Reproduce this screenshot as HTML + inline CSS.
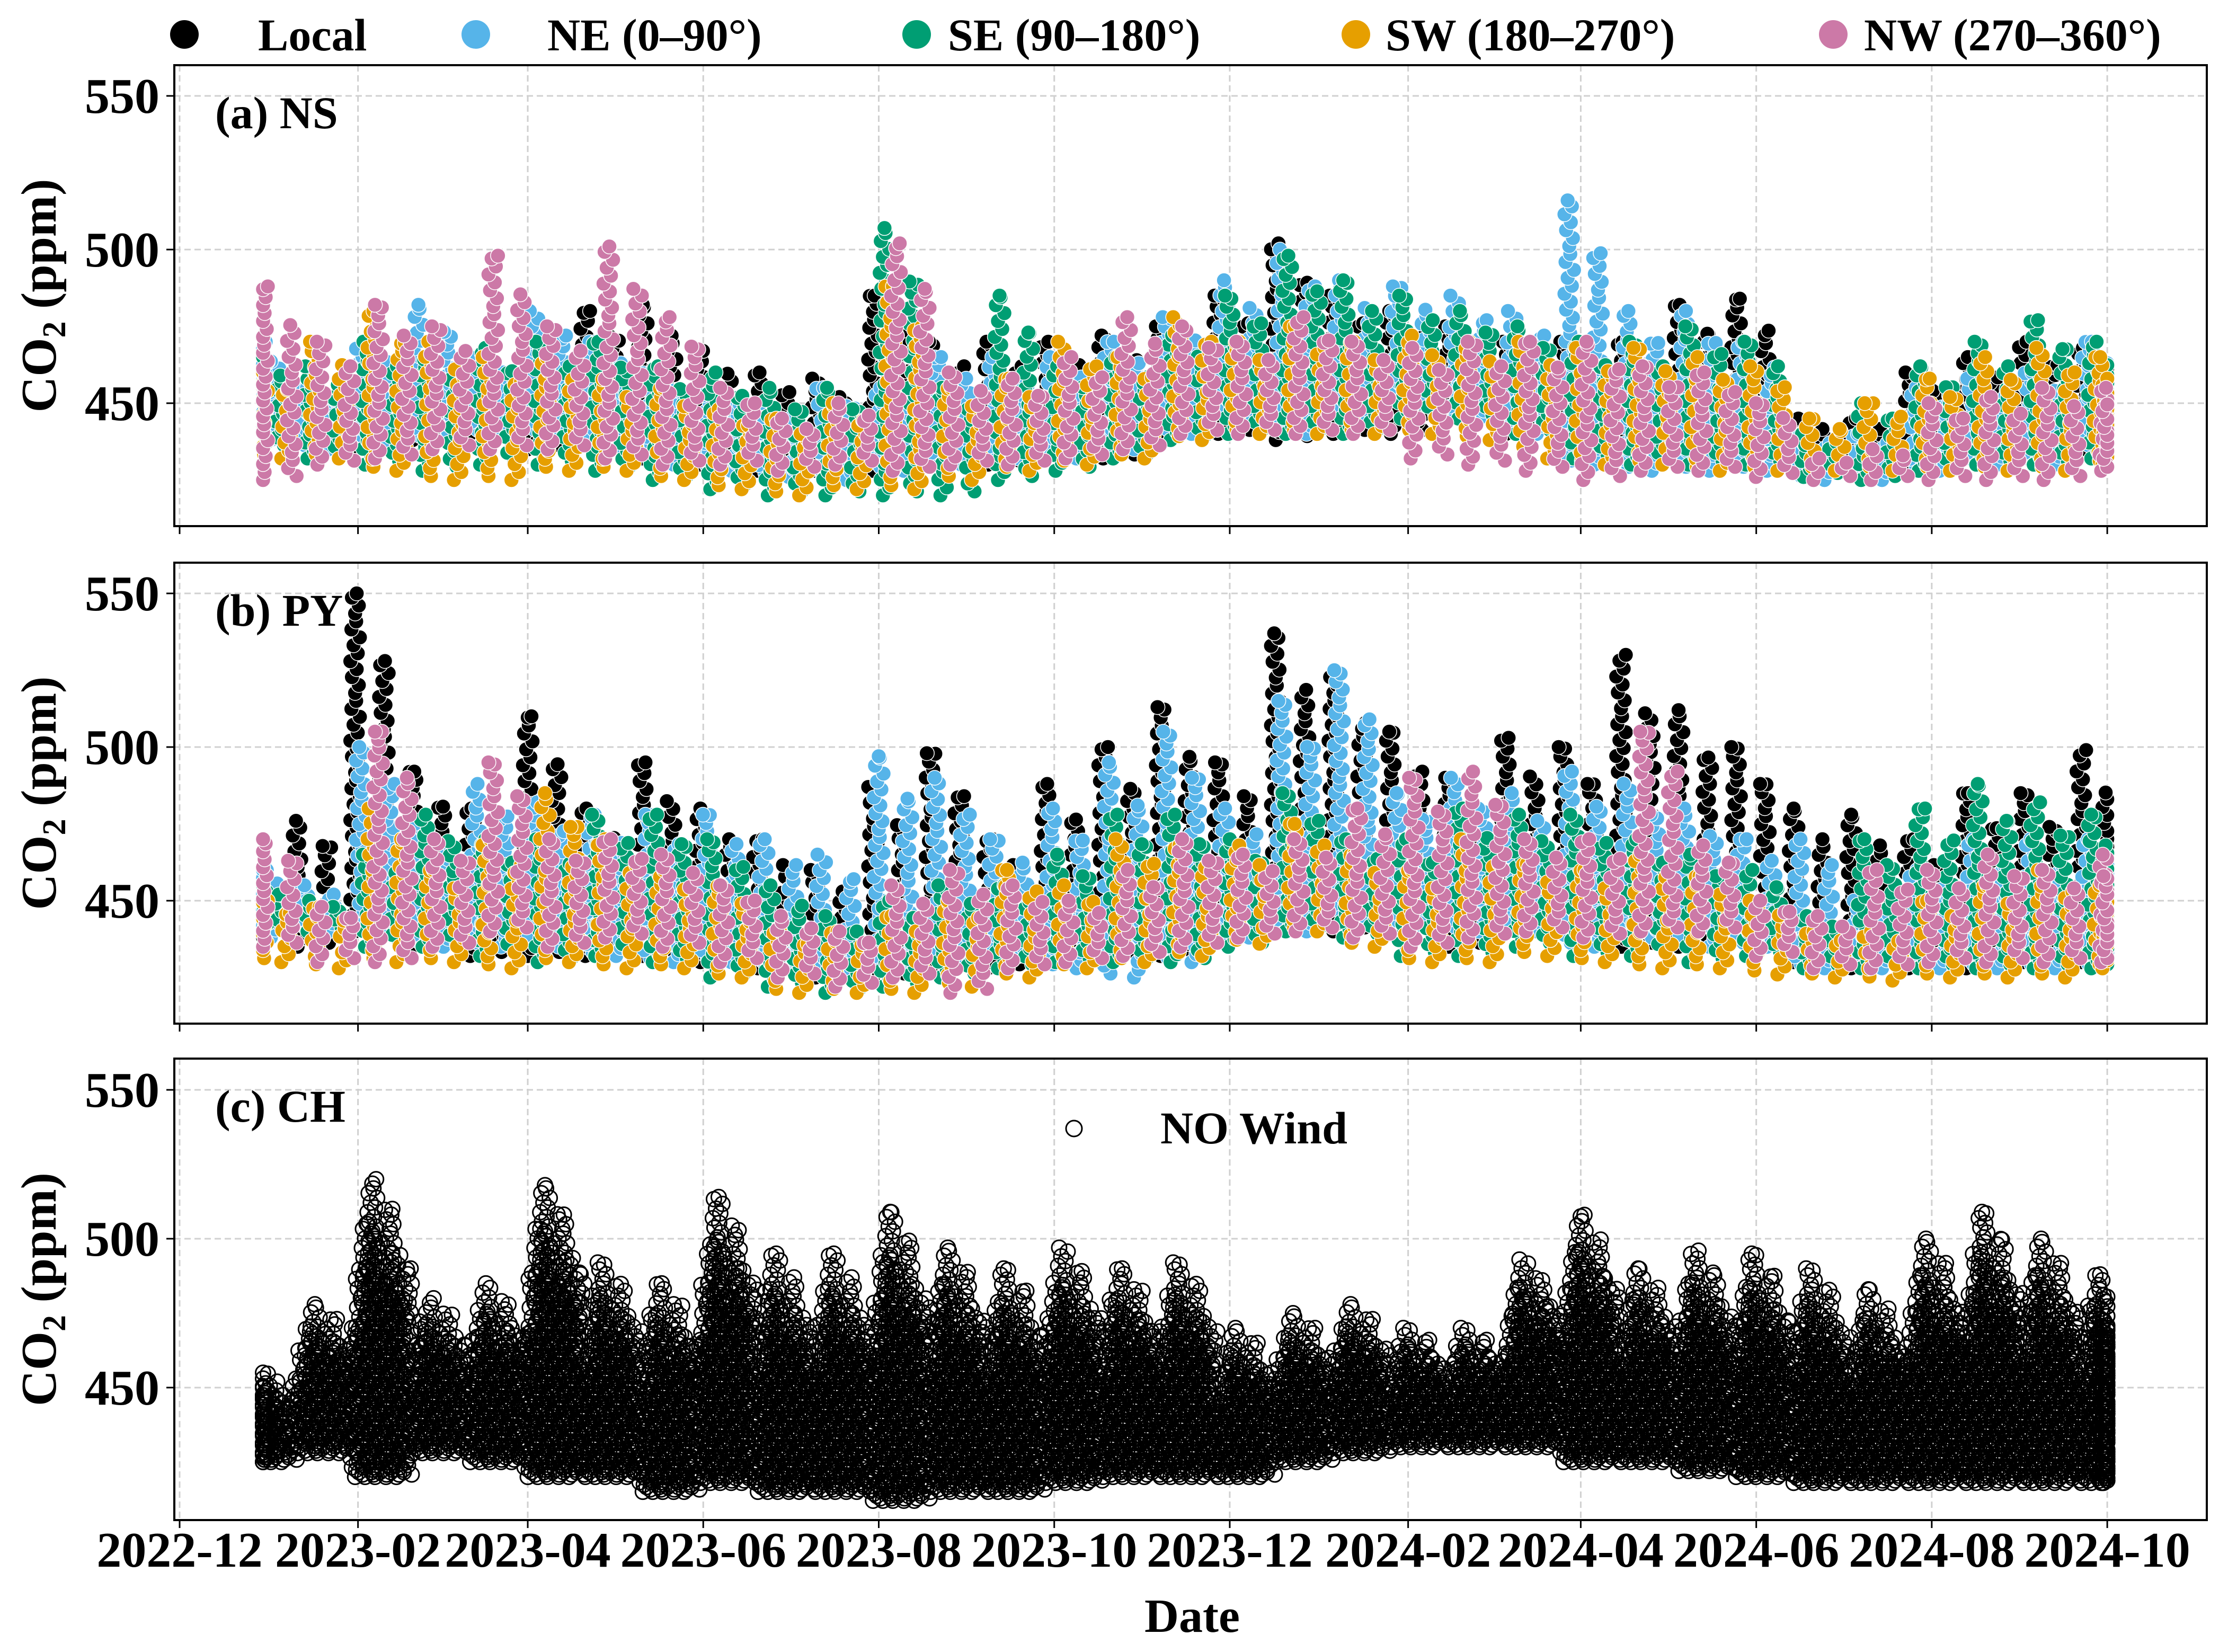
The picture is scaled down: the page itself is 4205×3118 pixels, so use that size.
<!DOCTYPE html>
<html><head><meta charset="utf-8"><style>
html,body{margin:0;padding:0;background:#fff;}
svg{display:block;font-family:"Liberation Serif","DejaVu Serif",serif;font-weight:bold;}
</style></head><body>
<svg id="chart" xmlns="http://www.w3.org/2000/svg" width="4205" height="3118" viewBox="0 0 4205 3118">
<g id="legend">
 <g><circle cx="348" cy="65" r="27" fill="#000"/><text x="487" y="95" font-size="86">Local</text></g>
 <g><circle cx="898" cy="65" r="27" fill="#56b4e9"/><text x="1033" y="95" font-size="86">NE (0–90°)</text></g>
 <g><circle cx="1730" cy="65" r="27" fill="#009e73"/><text x="1789" y="95" font-size="86">SE (90–180°)</text></g>
 <g><circle cx="2559" cy="65" r="27" fill="#e69f00"/><text x="2615" y="95" font-size="86">SW (180–270°)</text></g>
 <g><circle cx="3460" cy="65" r="27" fill="#cc79a7"/><text x="3518" y="95" font-size="86">NW (270–360°)</text></g>
</g>
<text x="2250" y="3080" font-size="90" text-anchor="middle">Date</text>
</svg>
<script>
// ---- data: bins are days since 2022-12-01; each series gives [low, high] CO2 ppm range per bin ----
const binDays = [30,50,70,90,110,130,150,170,190,210,230,250,270,290,310,330,350,370,390,410,430,450,470,490,510,530,550,570,590,610,630,650,670];
const tickDays = [0,62,121,182,243,304,365,427,487,548,609,670];
const tickLabels = ["2022-12","2023-02","2023-04","2023-06","2023-08","2023-10","2023-12","2024-02","2024-04","2024-06","2024-08","2024-10"];
const yTicks = [450,500,550];

const nsLocal = [[440,455],[438,450],[435,450],[438,455],[440,460],[435,470],[438,480],[432,482],[430,467],[428,460],[428,458],[428,485],[430,470],[430,470],[432,470],[432,472],[440,475],[440,485],[438,502],[440,485],[440,480],[445,475],[440,470],[440,470],[438,470],[435,482],[432,484],[428,445],[428,445],[430,460],[432,465],[432,470],[435,468]];
const nsNE = [[438,470],[435,455],[438,470],[438,482],[440,465],[440,480],[435,470],[430,460],[428,455],[426,450],[425,455],[428,455],[430,465],[432,465],[432,465],[435,470],[440,478],[445,490],[440,500],[445,490],[450,488],[445,485],[440,480],[430,516],[428,480],[428,480],[428,470],[425,440],[425,440],[428,455],[430,458],[430,460],[435,470]];
const nsSE = [[435,465],[432,462],[430,470],[428,465],[430,468],[430,470],[428,470],[425,462],[422,460],[420,455],[420,455],[420,507],[420,455],[425,485],[428,462],[432,465],[438,472],[440,485],[440,498],[440,490],[445,485],[445,480],[440,475],[432,470],[430,470],[430,475],[430,470],[426,440],[425,450],[428,462],[430,470],[430,477],[432,470]];
const nsSW = [[432,460],[432,470],[428,480],[425,470],[425,465],[428,465],[428,458],[425,455],[422,448],[420,445],[422,450],[422,488],[425,455],[428,458],[430,470],[432,465],[438,478],[440,470],[440,475],[440,470],[440,472],[438,470],[432,470],[430,468],[430,468],[428,465],[428,462],[428,445],[428,450],[428,458],[428,465],[428,468],[430,465]];
const nsNW = [[425,488],[430,470],[432,482],[435,475],[435,498],[435,475],[432,501],[430,478],[430,455],[428,445],[430,450],[428,502],[430,460],[430,458],[432,465],[435,478],[440,475],[440,470],[440,478],[440,470],[432,468],[430,470],[428,470],[425,470],[428,462],[428,460],[426,450],[425,432],[425,435],[425,450],[425,452],[425,455],[428,455]];

const pyLocal = [[438,450],[435,476],[440,550],[435,492],[432,480],[432,510],[432,480],[432,495],[430,480],[428,470],[425,460],[425,487],[428,498],[428,470],[430,488],[432,500],[432,513],[440,495],[445,537],[440,525],[440,505],[435,490],[440,503],[440,500],[435,530],[435,512],[440,500],[430,480],[428,478],[428,470],[428,485],[430,485],[430,499]];
const pyNE = [[438,460],[440,455],[440,500],[435,475],[435,488],[435,482],[432,478],[430,478],[430,478],[428,470],[425,465],[428,497],[430,490],[432,470],[428,480],[425,495],[430,505],[438,480],[440,515],[445,525],[442,485],[440,490],[440,485],[435,492],[438,488],[435,480],[435,470],[428,470],[428,450],[428,460],[428,470],[428,470],[428,470]];
const pySE = [[440,455],[440,450],[435,465],[435,478],[432,470],[430,470],[432,478],[430,478],[425,470],[422,455],[420,445],[422,450],[425,455],[428,455],[430,465],[430,478],[430,478],[435,470],[440,485],[438,470],[432,470],[432,480],[435,478],[432,478],[432,470],[430,465],[432,460],[428,445],[428,470],[428,480],[428,488],[428,482],[428,478]];
const pySW = [[430,450],[428,448],[430,480],[430,460],[428,470],[430,485],[428,470],[428,460],[425,455],[420,440],[420,440],[420,445],[422,450],[425,460],[428,455],[430,470],[432,468],[436,468],[440,475],[435,465],[430,460],[430,470],[432,462],[430,460],[428,465],[428,458],[426,450],[425,440],[424,440],[425,450],[425,455],[425,460],[428,455]];
const pyNW = [[435,470],[430,448],[430,505],[435,470],[440,495],[435,470],[438,470],[435,465],[430,455],[425,445],[422,440],[425,455],[420,460],[428,455],[430,450],[432,460],[435,470],[438,465],[440,470],[438,480],[435,490],[438,492],[440,470],[438,470],[440,505],[440,468],[432,450],[428,445],[428,460],[430,460],[430,465],[430,460],[430,465]];

const chNoWind = [[425,455],[428,478],[420,520],[428,480],[425,485],[420,518],[420,492],[415,485],[418,514],[415,495],[415,495],[412,509],[415,497],[415,490],[418,497],[420,490],[420,492],[420,470],[425,475],[428,478],[430,470],[430,470],[430,493],[425,508],[425,490],[422,496],[420,495],[418,490],[418,483],[418,500],[418,509],[418,500],[418,488]];

// ---- layout ----
const NS='http://www.w3.org/2000/svg';
const svg=document.getElementById('chart');
const X0=339, PXD=5.43, LEFT=329, RIGHT=4165, DMIN=29, DMAX=670;
const xS=d=>X0+Math.max(DMIN,Math.min(DMAX,d))*PXD;
const panels=[
 {name:'ns',label:'(a) NS',top:123,bottom:993,ymin:410,ymax:560,series:[['local',nsLocal,'#000'],['ne',nsNE,'#56b4e9'],['se',nsSE,'#009e73'],['sw',nsSW,'#e69f00'],['nw',nsNW,'#cc79a7']]},
 {name:'py',label:'(b) PY',top:1062,bottom:1932,ymin:410,ymax:560,series:[['local',pyLocal,'#000'],['ne',pyNE,'#56b4e9'],['se',pySE,'#009e73'],['sw',pySW,'#e69f00'],['nw',pyNW,'#cc79a7']]},
 {name:'ch',label:'(c) CH',top:1998,bottom:2869,ymin:405.5,ymax:560.5,series:[['no-wind',chNoWind,'none']],open:true}
];
function mk(tag,attrs,parent){const e=document.createElementNS(NS,tag);for(const k in attrs)e.setAttribute(k,attrs[k]);(parent||svg).appendChild(e);return e;}
const colOff=[-9,-7,-5,-3,-1,1,3,5,7,9];
const jitter=[0,7,-6,3,-9,5,-3,9,-7,2];
panels.forEach((p,pi)=>{
 const yS=v=>p.bottom-(v-p.ymin)/(p.ymax-p.ymin)*(p.bottom-p.top);
 const g=mk('g',{});
 
 
 tickDays.forEach(d=>{const l=mk('line',{x1:X0+d*PXD,x2:X0+d*PXD,y1:p.top,y2:p.bottom,stroke:'#d0d0d0','stroke-width':3,'stroke-dasharray':'12 7'},g);
  });
 yTicks.forEach(v=>{const l=mk('line',{x1:LEFT,x2:RIGHT,y1:yS(v),y2:yS(v),stroke:'#d0d0d0','stroke-width':3,'stroke-dasharray':'12 7'},g);
  });
 p.series.forEach(([sn,arr,col],si)=>{
  const sg=mk('g',{},g);
  
  
  arr.forEach((r,bi)=>{
   if(!r)return;
   const lo=yS(r[0]), hiFull=yS(r[1]);
   colOff.forEach((off,ci)=>{
    if(!p.open && ci%5!==si)return;
    const x=xS(binDays[bi]+off);
    const frac=p.open?[0.5,0.7,0.85,1,0.8,0.65,0.9,0.75,0.6,0.7][ci]:(ci<5?1:0.8);
    const hi=lo-(lo-hiFull)*frac;
    const step=p.open?9:15;
    let y=lo-(ci%2)*step/2;
    const ys=[];
    for(;y>=hi;y-=step)ys.push(y);
    ys.push(hi);
    ys.forEach((yy,ri)=>{
     const xx=Math.min(xS(DMAX),Math.max(xS(DMIN),x+jitter[(ri+ci*3)%10]));
     const c=p.open?mk('circle',{cx:xx,cy:yy,r:14,fill:'none',stroke:'#000','stroke-width':3},sg)
                   :mk('circle',{cx:xx,cy:yy,r:14,fill:col,stroke:'#fff','stroke-width':1.5},sg);
     
     
    });
   });
  });
 });
 const fr=mk('rect',{x:LEFT,y:p.top,width:RIGHT-LEFT,height:p.bottom-p.top,fill:'none',stroke:'#000','stroke-width':4},g);
 
 yTicks.forEach(v=>{mk('line',{x1:LEFT-15,x2:LEFT,y1:yS(v),y2:yS(v),stroke:'#000','stroke-width':3},g);
  const t=mk('text',{x:LEFT-28,y:yS(v)+32,'font-size':94,'text-anchor':'end'},g);t.textContent=v;
  });
 tickDays.forEach((d,i)=>{mk('line',{x1:X0+d*PXD,x2:X0+d*PXD,y1:p.bottom,y2:p.bottom+15,stroke:'#000','stroke-width':3},g);
  if(pi===2){const t=mk('text',{x:X0+d*PXD,y:p.bottom+88,'font-size':94,'text-anchor':'middle'},g);t.textContent=tickLabels[i];
   }});
 const pl=mk('text',{x:406,y:p.top+119,'font-size':86},g);pl.textContent=p.label;
 
 const yc=(p.top+p.bottom)/2;
 const yt=mk('text',{x:0,y:0,'font-size':94,'text-anchor':'middle',transform:`translate(105,${yc}) rotate(-90)`},g);
 yt.innerHTML='CO<tspan font-size="62" dy="18">2</tspan><tspan dy="-18"> (ppm)</tspan>';
 
 if(p.open){
  const lg=mk('g',{},g);
  
  
  mk('circle',{cx:2027,cy:2130,r:15,fill:'none',stroke:'#000','stroke-width':3},lg);
  const lt=mk('text',{x:2190,y:2158,'font-size':86},lg);lt.textContent='NO Wind';
 }
});
</script>
</body></html>
